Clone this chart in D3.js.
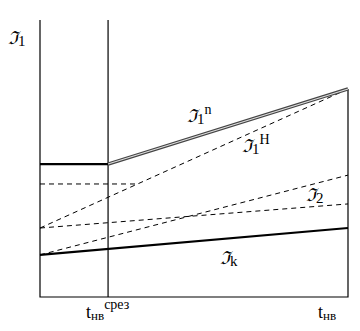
<!DOCTYPE html>
<html>
<head>
<meta charset="utf-8">
<script src="https://cdn.jsdelivr.net/npm/d3@7"></script>
<style>
  body { margin: 0; background: #fff; }
  svg text { font-family: "Liberation Serif", "DejaVu Serif", serif; fill: #000; }
</style>
</head>
<body>
<div id="chart"></div>
<script>
const width = 360;
const height = 331;

// time points: start, cut-off time, end
const times = [0, 0.221, 1];

// line values (fraction of axis height) at [start, cut, end]
const t1nValues = [0.48, 0.48, 0.751];   // thick then double line
const t1hValues = [0.249, 0.751];        // dashed, start -> end
const t2Values = [0.249, 0.336];         // dashed, start -> end
const t3Values = [0.152, 0.44];          // dashed, start -> end
const tkValues = [0.152, 0.249];         // thick solid, start -> end
const levelValue = 0.408;                // dashed horizontal level

const x = d3.scaleLinear().domain([0, 1]).range([40, 348]);
const y = d3.scaleLinear().domain([0, 1]).range([297, 20]);

const svg = d3
  .select("#chart")
  .append("svg")
  .attr("width", width)
  .attr("height", height);

const line = d3.line().x((d) => x(d[0])).y((d) => y(d[1]));

// axes frame
svg.append("path")
  .attr("d", line([[0, 1], [0, 0], [1, 0], [1, t1nValues[2]]]))
  .attr("fill", "none").attr("stroke", "#000").attr("stroke-width", 1.2);

svg.append("line")
  .attr("x1", x(times[1])).attr("x2", x(times[1]))
  .attr("y1", y(1)).attr("y2", y(0))
  .attr("stroke", "#000").attr("stroke-width", 1.2);

// dashed lines
const dashed = [
  [[times[0], t1hValues[0]], [times[2], t1hValues[1]]],
  [[times[0], t2Values[0]], [times[2], t2Values[1]]],
  [[times[0], t3Values[0]], [times[2], t3Values[1]]],
];
// horizontal level until it meets the T1H line
const hitX = (levelValue - t1hValues[0]) / (t1hValues[1] - t1hValues[0]);
dashed.push([[times[0], levelValue], [hitX, levelValue]]);

svg.selectAll(".dash")
  .data(dashed)
  .join("path")
  .classed("dash", true)
  .attr("d", line)
  .attr("fill", "none")
  .attr("stroke", "#000")
  .attr("stroke-width", 1)
  .attr("stroke-dasharray", "5,4");

// Tk thick line
svg.append("path")
  .attr("d", line([[times[0], tkValues[0]], [times[2], tkValues[1]]]))
  .attr("fill", "none").attr("stroke", "#000").attr("stroke-width", 2.2);

// T1n: thick horizontal, then double line
svg.append("path")
  .attr("d", line([[times[0], t1nValues[0]], [times[1], t1nValues[1]]]))
  .attr("fill", "none").attr("stroke", "#000").attr("stroke-width", 2.2);

const dbl = [[times[1], t1nValues[1]], [times[2], t1nValues[2]]];
svg.append("path")
  .attr("d", line(dbl))
  .attr("fill", "none").attr("stroke", "#444").attr("stroke-width", 3.4);
svg.append("path")
  .attr("d", line(dbl))
  .attr("fill", "none").attr("stroke", "#ddd").attr("stroke-width", 1.1);

// labels
function label(px, py, sub, sup) {
  const t = svg.append("text").attr("x", px).attr("y", py).style("font-size", "18px");
  t.append("tspan").style("font-family", "'DejaVu Serif'").style("font-style", "italic").text("ℑ");
  if (sub) t.append("tspan").attr("dy", 2).style("font-size", "15px").text(sub);
  if (sup) t.append("tspan").attr("dy", -10).style("font-size", "14px").text(sup);
}
label(8, 44, "1");
label(187, 122, "1", "n");
label(242, 152, "1", "H");
label(306, 201, "2");
label(220, 264, "k");

function tLabel(px, sup) {
  const t = svg.append("text").attr("x", px).attr("y", 318).style("font-size", "18px");
  t.append("tspan").text("t");
  t.append("tspan").attr("dy", 2).style("font-size", "13px").text("нв");
  if (sup) t.append("tspan").attr("dy", -11).style("font-size", "14px").text(sup);
}
tLabel(86, "срез");
tLabel(318);
</script>
</body>
</html>
